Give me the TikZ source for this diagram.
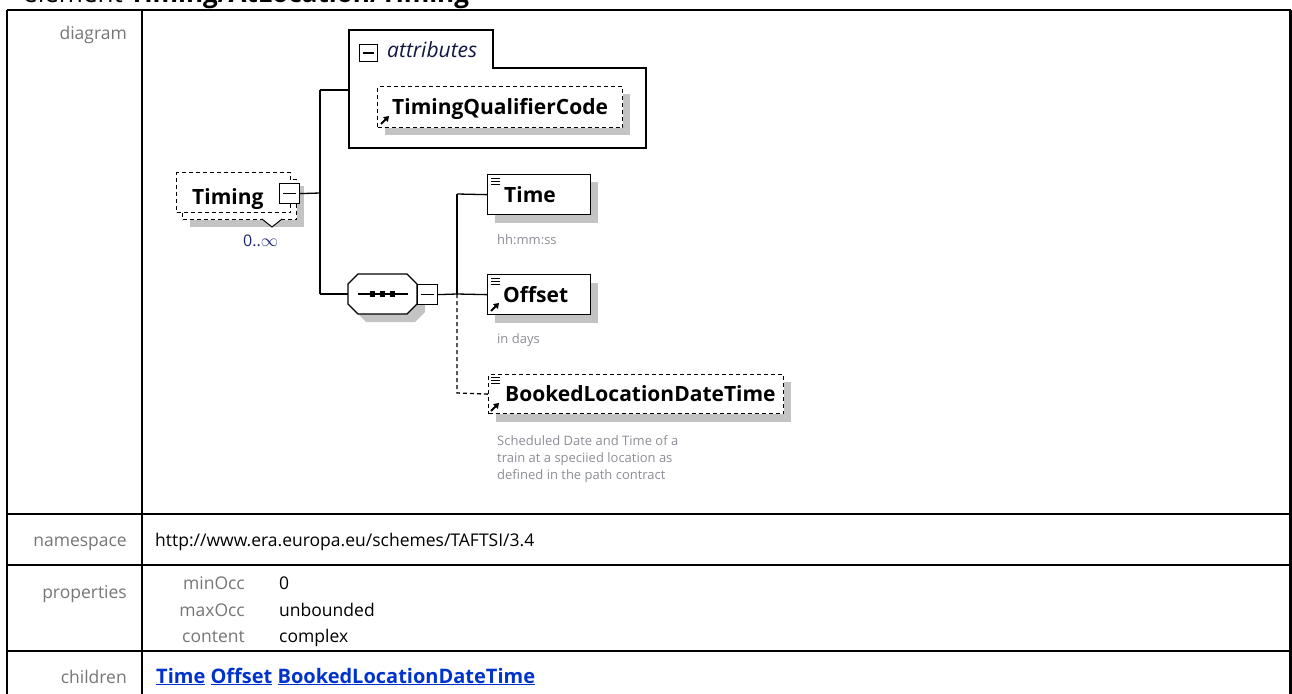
\documentclass[tikz,border=0pt]{standalone}
\usepackage{fontspec}
\setmainfont{Open Sans}
\usetikzlibrary{arrows.meta,calc}
\definecolor{lblgray}{RGB}{118,118,118}
\definecolor{descgray}{RGB}{140,142,150}
\definecolor{shadowgray}{RGB}{195,195,195}
\definecolor{linkblue}{RGB}{0,51,204}
\definecolor{occblue}{RGB}{30,40,110}
\newcommand\myfs[1]{\fontsize{#1pt}{#1pt}\selectfont}
\begin{document}
\begin{tikzpicture}[x=1pt,y=-1pt,
  tabline/.style={line width=2.2pt},
  elbox/.style={draw,line width=1.3pt,fill=white,inner sep=0,anchor=north west},
  optbox/.style={elbox,dash pattern=on 4pt off 3pt},
  conn/.style={line width=1.3pt},
  optconn/.style={conn,dash pattern=on 4pt off 3pt},
  elname/.style={font=\myfs{21}\bfseries,inner sep=0,anchor=base west},
  desc/.style={font=\myfs{13},text=descgray,inner sep=0,anchor=base west},
  rowlabel/.style={font=\myfs{17.5},text=lblgray,inner sep=0,anchor=base east},
  rowtext/.style={font=\myfs{17.5},inner sep=0,anchor=base west},
  minusbox/.style={draw,line width=1.2pt,fill=white,minimum width=20pt,minimum height=20pt,inner sep=0,anchor=north west},
  listicon/.pic={\draw[line width=1pt] (0,0) -- (9,0) (0,3) -- (9,3) (0,6) -- (9,6);},
  refarrow/.pic={\draw[line width=2pt,-{Triangle[length=5pt,width=6.5pt]}] (0,0) -- (8,-8);},
]
\useasboundingbox (0,0) rectangle (1292,693);
% title (cut off at top)
\node[anchor=base west,inner sep=0,font=\myfs{26}] (title) at (23,3) {element \textbf{Timing/AtLocation/Timing}};
% table
\draw[tabline] (7,10) -- (1291,10);
\draw[tabline] (7,10) -- (7,700);
\draw[tabline] (142,10) -- (142,700);
\draw[tabline] (1290.5,10) -- (1290.5,700);
\draw[tabline] (7,514) -- (1291,514);
\draw[tabline] (7,565) -- (1291,565);
\draw[tabline] (7,651) -- (1291,651);
\node[rowlabel] (ldiag) at (127,40) {diagram};
\node[rowlabel] (lns) at (127,546) {namespace};
\node[rowlabel] (lprop) at (127,598) {properties};
\node[rowlabel] (lchild) at (127,683) {children};
\node[rowtext] (ns) at (155,546) {http://www.era.europa.eu/schemes/TAFTSI/3.4};
\node[rowlabel] (pmin) at (245,589) {minOcc};
\node[rowlabel] (pmax) at (245,616) {maxOcc};
\node[rowlabel] (pcont) at (245,642) {content};
\node[rowtext] (vmin) at (279,589) {0};
\node[rowtext] (vmax) at (279,616) {unbounded};
\node[rowtext] (vcont) at (279,642) {complex};
\node[rowtext,font=\myfs{20}\bfseries,text=linkblue] (links) at (156,683) {\underline{Time} \underline{Offset} \underline{BookedLocationDateTime}};
% ---- Timing element
\fill[shadowgray] (190,186) rectangle (304,227);
\node[optbox,minimum width=114pt,minimum height=40pt] (timingback) at (182,179) {};
\node[optbox,minimum width=114pt,minimum height=40pt] (timing) at (176,172) {};
\node[elname] (timinglbl) at (192,204) {Timing};
\draw[line width=1pt,fill=white] (262,219) -- (272,227) -- (282,219);
\node[minusbox] (tmin) at (279,183) {};
\draw[line width=1.2pt] ($(tmin.west)+(4,0)$) -- ($(tmin.east)+(-4,0)$);
\node[font=\myfs{16},text=occblue,inner sep=0,anchor=base west] (occ) at (243,246) {0..$\infty$};
% bus 1
\coordinate (busA) at (320,193);
\coordinate (busTop) at (320,90);
\coordinate (busBot) at (320,294);
\draw[conn] (tmin.east) -- (busA);
\draw[conn] (busTop) -- (busBot);
% ---- attributes group
\node[draw=none,minimum width=297pt,minimum height=80pt,inner sep=0,anchor=north west] (attrbox) at (349,68) {};
\draw[line width=1.3pt,fill=white] (349,148) -- (349,30) -- (493,30) -- (493,68) -- (646,68) -- (646,148) -- cycle;
\node[draw,line width=1.2pt,fill=white,minimum width=18pt,minimum height=17pt,inner sep=0,anchor=north west] (amin) at (359,44) {};
\draw[line width=1.2pt] ($(amin.west)+(4,0)$) -- ($(amin.east)+(-4,0)$);
\node[font=\myfs{21}\itshape,text=occblue!60!black,inner sep=0,anchor=base west] (attrlbl) at (387,58) {attributes};
\draw[conn] (busTop) -- (busTop -| attrbox.west);
\fill[shadowgray] (385,94) rectangle (630,135);
\node[optbox,minimum width=245pt,minimum height=41pt] (tqc) at (377,86) {};
\node[elname] (tqclbl) at (392,114) {TimingQualifierCode};
\pic at (381,124) {refarrow};
% ---- sequence compositor
\fill[shadowgray] (356,292) -- (366,282) -- (415,282) -- (425,292) -- (425,312) -- (415,322) -- (366,322) -- (356,312) -- cycle;
\draw[line width=1.3pt,fill=white] (348,284) -- (358,274) -- (407,274) -- (417,284) -- (417,304) -- (407,314) -- (358,314) -- (348,304) -- cycle;
\node[draw=none,minimum width=69pt,minimum height=40pt,inner sep=0] (seq) at (382.5,294) {};
\draw[line width=1.2pt] (358,294) -- (408,294);
\fill (370,291) rectangle (375,297);
\fill (380,291) rectangle (385,297);
\fill (390,291) rectangle (395,297);
\node[minusbox] (smin) at (417,284) {};
\draw[line width=1.2pt] ($(smin.west)+(4,0)$) -- ($(smin.east)+(-4,0)$);
\draw[conn] (busBot) -- (seq.west);
% bus 2
\coordinate (busBtop) at (457,194);
\coordinate (busBmid) at (457,294);
\coordinate (busBbot) at (457,393);
\draw[conn] (smin.east) -- (busBmid);
\draw[conn] (busBtop) -- (busBmid);
% ---- Time
\fill[shadowgray] (495,182) rectangle (598,223);
\node[elbox,minimum width=103pt,minimum height=40pt] (time) at (487,174) {};
\pic at (491,178) {listicon};
\node[elname] (timelbl) at (504,202) {Time};
\node[desc] (timedesc) at (497,244) {hh:mm:ss};
\draw[conn] (busBtop) -- (time.west);
% ---- Offset
\fill[shadowgray] (495,283) rectangle (598,323);
\node[elbox,minimum width=103pt,minimum height=40pt] (offset) at (487,274) {};
\pic at (491,278) {listicon};
\pic at (491,311) {refarrow};
\node[elname] (offsetlbl) at (503,302) {Offset};
\node[desc] (offsetdesc) at (497,343) {in days};
\draw[conn] (busBmid) -- (offset.west);
% ---- BookedLocationDateTime
\fill[shadowgray] (496,382) rectangle (791,422);
\node[optbox,minimum width=295pt,minimum height=39pt] (booked) at (488,374) {};
\pic at (491,377) {listicon};
\pic at (491,411) {refarrow};
\node[elname] (bookedlbl) at (505,401) {BookedLocationDateTime};
\node[desc] (bd1) at (497,445) {Scheduled Date and Time of a};
\node[desc] (bd2) at (497,462) {train at a speciied location as};
\node[desc] (bd3) at (497,479) {defined in the path contract};
\draw[optconn] (busBmid) -- (busBbot) -- (booked.west);
\end{tikzpicture}
\end{document}
